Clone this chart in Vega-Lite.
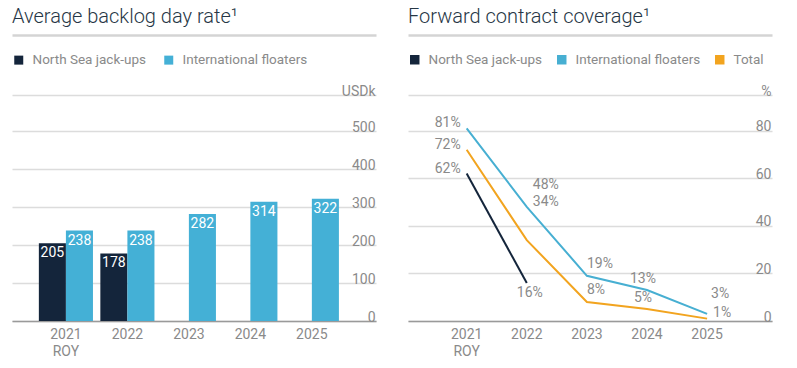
{
  "$schema": "https://vega.github.io/schema/vega-lite/v6.json",
  "padding": {"left": 12, "top": 7, "right": 20, "bottom": 4},
  "background": "white",
  "spacing": 32,
  "config": {
    "font": "Roboto",
    "view": {"stroke": null},
    "title": {"anchor": "start", "fontSize": 20, "fontWeight": 300, "color": "#263645", "offset": 8},
    "axisX": {"ticks": false, "labelColor": "#8a8a8a", "labelFontSize": 14, "labelPadding": 6, "domainColor": "#9a9a9a", "domainWidth": 1.5, "title": null, "labelAngle": 0, "labelLineHeight": 17},
    "axisY": {"grid": true, "gridColor": "#dcdcdc", "gridWidth": 1.5, "domain": false, "ticks": false, "labelAlign": "right", "labelBaseline": "alphabetic", "labelPadding": -1, "labelDy": -5, "labelColor": "#8a8a8a", "labelFontSize": 14, "title": null, "minExtent": 0, "maxExtent": 0, "labelOverlap": false},
    "legend": {"orient": "none", "legendX": 0, "legendY": -42, "direction": "horizontal", "title": null, "labelColor": "#8a8a8a", "labelFontSize": 13.5, "symbolType": "square"}
  },
  "resolve": {"scale": {"color": "independent"}, "legend": {"color": "independent"}},
  "hconcat": [
    {
      "width": 364,
      "height": 226,
      "title": {"text": "Average backlog day rate¹"},
      "data": {"values": [
        {"year": "2021", "series": "North Sea jack-ups", "value": 205},
        {"year": "2021", "series": "International floaters", "value": 238},
        {"year": "2022", "series": "North Sea jack-ups", "value": 178},
        {"year": "2022", "series": "International floaters", "value": 238},
        {"year": "2023", "series": "International floaters", "value": 282},
        {"year": "2024", "series": "International floaters", "value": 314},
        {"year": "2025", "series": "International floaters", "value": 322}
      ]},
      "encoding": {
        "x": {"field": "year", "type": "nominal", "sort": ["2021", "2022", "2023", "2024", "2025"],
              "scale": {"type": "band", "paddingInner": 0.12, "paddingOuter": 0.52, "align": 0.42}},
        "xOffset": {"field": "series", "type": "nominal", "sort": ["North Sea jack-ups", "International floaters"]},
        "y": {"field": "value", "type": "quantitative", "scale": {"domain": [0, 595], "nice": false},
              "axis": {"orient": "right", "values": [0, 100, 200, 300, 400, 500, 595], "labelOverlap": false, "labelExpr": "datum.value > 550 ? 'USDk' : datum.label"}}
      },
      "layer": [
        {
          "mark": {"type": "bar", "stroke": null},
          "encoding": {
            "x": {"field": "year", "type": "nominal", "sort": ["2021", "2022", "2023", "2024", "2025"],
                  "axis": {"orient": "bottom", "labelExpr": "datum.value == '2021' ? ['2021', 'ROY'] : datum.label"}},
            "color": {"field": "series", "type": "nominal",
                      "scale": {"domain": ["North Sea jack-ups", "International floaters"], "range": ["#14253b", "#44b0d6"]},
                      "legend": {"symbolSize": 81, "symbolStrokeWidth": 0, "labelOffset": 7, "columnPadding": 15}}
          }
        },
        {
          "mark": {"type": "text", "baseline": "top", "dy": 3, "color": "white", "fontSize": 14},
          "encoding": {
            "x": {"field": "year", "type": "nominal", "sort": ["2021", "2022", "2023", "2024", "2025"],
                  "axis": {"orient": "top", "offset": 60, "labels": false, "domainColor": "#d4d4d4", "domainWidth": 2.5}},
            "text": {"field": "value", "type": "quantitative"}
          }
        }
      ],
      "resolve": {"axis": {"x": "independent"}}
    },
    {
      "width": 364,
      "height": 226,
      "title": {"text": "Forward contract coverage¹"},
      "data": {"values": [
        {"year": "2021", "series": "North Sea jack-ups", "value": 62},
        {"year": "2022", "series": "North Sea jack-ups", "value": 16},
        {"year": "2021", "series": "International floaters", "value": 81},
        {"year": "2022", "series": "International floaters", "value": 48},
        {"year": "2023", "series": "International floaters", "value": 19},
        {"year": "2024", "series": "International floaters", "value": 13},
        {"year": "2025", "series": "International floaters", "value": 3},
        {"year": "2021", "series": "Total", "value": 72},
        {"year": "2022", "series": "Total", "value": 34},
        {"year": "2023", "series": "Total", "value": 8},
        {"year": "2024", "series": "Total", "value": 5},
        {"year": "2025", "series": "Total", "value": 1}
      ]},
      "transform": [{"calculate": "datum.value + '%'", "as": "label"}],
      "encoding": {
        "x": {"field": "year", "type": "nominal", "sort": ["2021", "2022", "2023", "2024", "2025"],
              "scale": {"type": "band", "paddingInner": 0.12, "paddingOuter": 0.588, "align": 0.456}, "axis": null},
        "y": {"field": "value", "type": "quantitative", "scale": {"domain": [0, 95], "nice": false},
              "axis": {"orient": "right", "values": [0, 20, 40, 60, 80, 95], "labelOverlap": false, "labelExpr": "datum.value > 90 ? '%' : datum.label"}},
        "text": {"field": "label", "type": "nominal"}
      },
      "layer": [
        {
          "mark": {"type": "line", "strokeWidth": 2},
          "encoding": {
            "x": {"field": "year", "type": "nominal", "sort": ["2021", "2022", "2023", "2024", "2025"],
                  "axis": {"orient": "bottom", "labelExpr": "datum.value == '2021' ? ['2021', 'ROY'] : datum.label"}},
            "color": {"field": "series", "type": "nominal",
                      "scale": {"domain": ["North Sea jack-ups", "International floaters", "Total"], "range": ["#14253b", "#47afd2", "#f2a41f"]},
                      "legend": {"symbolSize": 20, "symbolStrokeWidth": 5, "labelOffset": 7, "columnPadding": 6}}
          }
        },
        {
          "transform": [{"filter": "datum.year == '2021'"}],
          "mark": {"type": "text", "align": "right", "dx": -6, "dy": -5, "color": "#8a8a8a", "fontSize": 14},
          "encoding": {
            "x": {"field": "year", "type": "nominal", "sort": ["2021", "2022", "2023", "2024", "2025"],
                  "axis": {"orient": "top", "offset": 60, "labels": false, "domainColor": "#d4d4d4", "domainWidth": 2.5}}
          }
        },
        {
          "transform": [{"filter": "datum.year == '2022' && datum.series == 'International floaters'"}],
          "mark": {"type": "text", "align": "left", "dx": 6, "dy": -22, "color": "#8a8a8a", "fontSize": 14}
        },
        {
          "transform": [{"filter": "datum.year == '2022' && datum.series == 'Total'"}],
          "mark": {"type": "text", "align": "left", "dx": 6, "dy": -38, "color": "#8a8a8a", "fontSize": 14}
        },
        {
          "transform": [{"filter": "datum.year == '2022' && datum.series == 'North Sea jack-ups'"}],
          "mark": {"type": "text", "align": "center", "dx": 3, "dy": 10, "color": "#8a8a8a", "fontSize": 14}
        },
        {
          "transform": [{"filter": "datum.year == '2023'"}],
          "mark": {"type": "text", "align": "left", "dx": 0, "dy": -12, "color": "#8a8a8a", "fontSize": 14}
        },
        {
          "transform": [{"filter": "datum.year == '2024'"}],
          "mark": {"type": "text", "align": "center", "dx": -4, "dy": -11, "color": "#8a8a8a", "fontSize": 14}
        },
        {
          "transform": [{"filter": "datum.year == '2025' && datum.series == 'International floaters'"}],
          "mark": {"type": "text", "align": "left", "dx": 4, "dy": -20, "color": "#8a8a8a", "fontSize": 14}
        },
        {
          "transform": [{"filter": "datum.year == '2025' && datum.series == 'Total'"}],
          "mark": {"type": "text", "align": "left", "dx": 6, "dy": -6, "color": "#8a8a8a", "fontSize": 14}
        }
      ],
      "resolve": {"axis": {"x": "independent"}}
    }
  ]
}
